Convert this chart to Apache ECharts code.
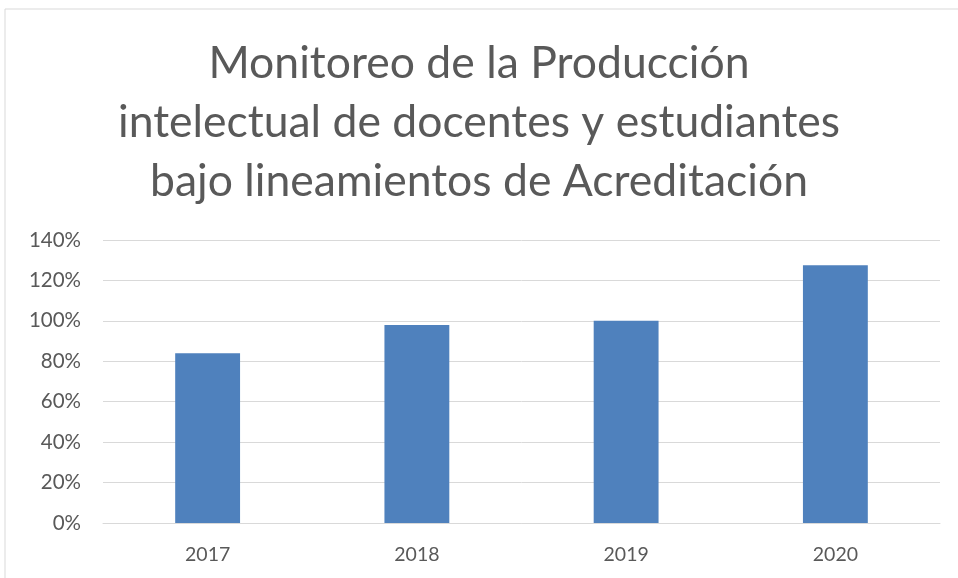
<!DOCTYPE html>
<html lang="es">
<head>
    <meta charset="UTF-8">
    <title>Monitoreo</title>
    <script src="https://cdn.jsdelivr.net/npm/echarts@6/dist/echarts.min.js"></script>
    <style>
        html, body { margin: 0; padding: 0; background: #fff; }
    </style>
</head>
<body>
    <div id="main" style="width: 958px;height:578px;"></div>

    <script>
        // datos
        const anios = ["2017", "2018", "2019", "2020"]
        const porcentajes = [84, 98, 100, 127.5]
        const titulo = "Monitoreo de la Producción\nintelectual de docentes y estudiantes\nbajo lineamientos de Acreditación"

        const mychart = echarts.init(document.getElementById("main"))
        const option = {
            animation: false,
            textStyle: { fontFamily: "Lato" },
            title: {
                text: titulo,
                left: "center",
                top: 29,
                textStyle: {
                    fontFamily: "Lato",
                    fontSize: 44.5,
                    fontWeight: "normal",
                    color: "#595959",
                    lineHeight: 59
                }
            },
            graphic: [{
                type: "rect",
                shape: { x: 5, y: 9, width: 1000, height: 1000 },
                style: { fill: "none", stroke: "#d9d9d9", lineWidth: 1 },
                silent: true
            }],
            grid: { left: 103, right: 18, top: 240, bottom: 55 },
            xAxis: {
                type: "category",
                data: anios,
                axisTick: { show: false },
                axisLine: { lineStyle: { color: "#d9d9d9", width: 1 } },
                axisLabel: { color: "#595959", fontSize: 19.5, margin: 22 }
            },
            yAxis: {
                type: "value",
                min: 0,
                max: 140,
                interval: 20,
                axisLine: { show: false },
                axisTick: { show: false },
                splitLine: { lineStyle: { color: "#d9d9d9", width: 1 } },
                axisLabel: { color: "#595959", fontSize: 20.5, margin: 22, formatter: "{value}%" }
            },
            series: [{
                type: "bar",
                data: porcentajes,
                barWidth: "31%",
                itemStyle: { color: "#4f81bd" }
            }]
        }
        mychart.setOption(option)
    </script>
</body>
</html>
